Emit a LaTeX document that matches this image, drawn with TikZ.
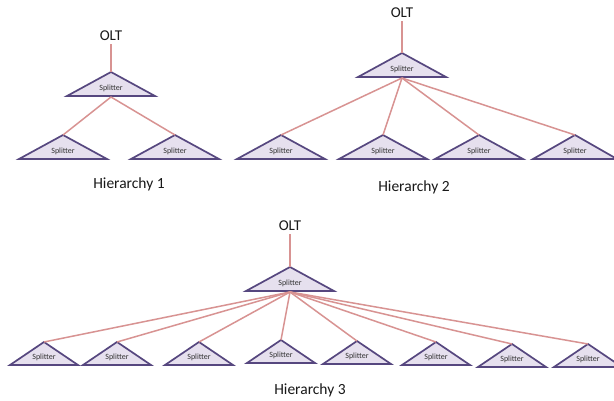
\documentclass[tikz,border=0pt]{standalone}
\usepackage{fontspec}
\setmainfont{Carlito}
\definecolor{splitfill}{HTML}{E6E0EE}
\definecolor{splitedge}{HTML}{56477F}
\definecolor{fiber}{HTML}{D89392}
\tikzset{
  splitbox/.style={draw=splitedge, fill=splitfill, line width=1.7pt, line join=miter},
  splitlabel/.style={font=\fontsize{8}{9}\selectfont, inner sep=0pt, text=black!80},
  fiberline/.style={draw=fiber, line width=1.5pt},
  oltlabel/.style={font=\fontsize{15}{17}\selectfont, inner sep=0pt, text=black!90},
  caption/.style={font=\fontsize{15.5}{18}\selectfont, inner sep=0pt, text=black!90},
}
% #1 name, #2 apex x, #3 apex y, #4 half base width, #5 height
\newcommand\splitternode[5]{%
  \coordinate (#1-top) at (#2,#3);
  \coordinate (#1-bot) at (#2,{#3+#5+1});
  \path[splitbox] (#1-top) -- ({#2+#4},{#3+#5}) -- ({#2-#4},{#3+#5}) -- cycle;
  \node[splitlabel] (#1) at (#2,{#3+0.68*#5}) {Splitter};
}
\begin{document}
\begin{tikzpicture}[x=1pt,y=-1pt]
\clip (0,0) rectangle (614,401);
\fill[white] (0,0) rectangle (614,401);

% ---------- Hierarchy 1 ----------
\node[oltlabel] (olt1) at (111,36) {OLT};
\splitternode{s1}{111}{72}{44}{24}
\splitternode{s1a}{63}{135}{44}{24}
\splitternode{s1b}{175}{135}{44}{24}
\draw[fiberline] ([yshift=-3pt]olt1.south) -- (s1-top);
\draw[fiberline] (s1-bot) -- (s1a-top);
\draw[fiberline] (s1-bot) -- (s1b-top);
\node[caption] (h1) at (129,184) {Hierarchy 1};

% ---------- Hierarchy 2 ----------
\node[oltlabel] (olt2) at (402,13) {OLT};
\splitternode{s2}{402}{53}{44}{24}
\foreach \n/\x/\w in {a/281/44, b/383/44, c/479/44, d/575/42}{
  \splitternode{s2\n}{\x}{135}{\w}{24}
}
\draw[fiberline] ([yshift=-3pt]olt2.south) -- (s2-top);
\foreach \n in {a,b,c,d}{
  \draw[fiberline] (s2-bot) -- (s2\n-top);
}
\node[caption] (h2) at (414,187) {Hierarchy 2};

% ---------- Hierarchy 3 ----------
\node[oltlabel] (olt3) at (290,226) {OLT};
\splitternode{s3}{290}{267}{44}{24}
\foreach \n/\x/\y in {a/44/342, b/117/342, c/199/342, d/281/340, e/357/341, f/436/342, g/512/344, h/588/344}{
  \splitternode{s3\n}{\x}{\y}{34}{23}
}
\draw[fiberline] ([yshift=-3pt]olt3.south) -- (s3-top);
\foreach \n in {a,b,c,d,e,f,g,h}{
  \draw[fiberline] (s3-bot) -- (s3\n-top);
}
\node[caption] (h3) at (310,390) {Hierarchy 3};
\end{tikzpicture}
\end{document}
